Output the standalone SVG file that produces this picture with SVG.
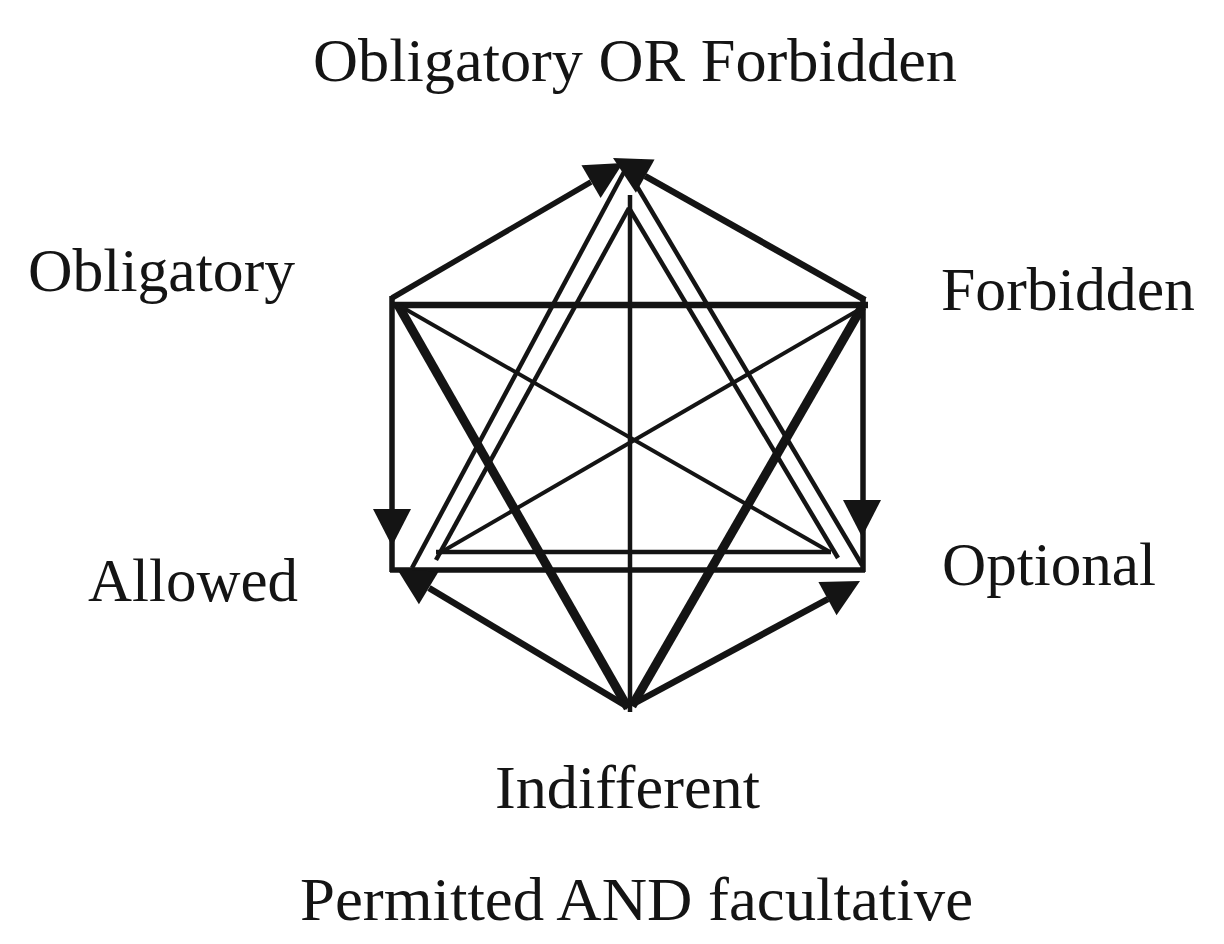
<svg xmlns="http://www.w3.org/2000/svg" width="1224" height="944" viewBox="0 0 1224 944">
<style>
  .lbl { font-family: "Liberation Serif", "Times New Roman", serif; font-size: 62px; fill: #141414; }
  .ln { stroke: #141414; fill: none; stroke-linecap: butt; }
  .w3 { stroke-width: 4; }
  .w4 { stroke-width: 4.5; }
  .w5 { stroke-width: 5.5; }
  .w6 { stroke-width: 6.5; }
  .w8 { stroke-width: 9; }
  .ah { fill: #141414; }
</style>
<defs>
  <polygon id="ah" points="0,0 -37,-19 -37,19"/>
</defs>
<rect width="1224" height="944" fill="#ffffff"/>
<g id="connectors">
  <line class="ln w5" x1="392" y1="298" x2="591" y2="182"/>
  <line class="ln w6" x1="865" y1="300" x2="645" y2="176"/>
  <line class="ln w6" x1="392" y1="305" x2="868" y2="305"/>
  <line class="ln w5" x1="392" y1="296" x2="392" y2="572"/>
  <line class="ln w5" x1="863" y1="298" x2="863" y2="572"/>
  <line class="ln w5" x1="390" y1="570" x2="865" y2="570"/>
  <line class="ln w8" x1="398" y1="305" x2="628" y2="708"/>
  <line class="ln w8" x1="862" y1="307" x2="632" y2="706"/>
  <line class="ln w3" x1="400" y1="306" x2="830" y2="552"/>
  <line class="ln w3" x1="862" y1="308" x2="438" y2="554"/>
  <line class="ln w4" x1="624" y1="172" x2="412" y2="568"/>
  <line class="ln w4" x1="632" y1="178" x2="862" y2="565"/>
  <line class="ln w4" x1="629" y1="208" x2="436" y2="560"/>
  <line class="ln w4" x1="629" y1="208" x2="838" y2="558"/>
  <line class="ln w4" x1="436" y1="552" x2="831" y2="552"/>
  <line class="ln w4" x1="630" y1="195" x2="630" y2="712"/>
  <line class="ln w6" x1="628" y1="707" x2="429" y2="588"/>
  <line class="ln w6" x1="635" y1="703" x2="828" y2="599"/>
  <use href="#ah" class="ah" transform="translate(623,163) rotate(-30.3)"/>
  <use href="#ah" class="ah" transform="translate(613,158) rotate(209.4)"/>
  <use href="#ah" class="ah" transform="translate(392,546) rotate(90)"/>
  <use href="#ah" class="ah" transform="translate(862,537) rotate(90)"/>
  <use href="#ah" class="ah" transform="translate(397,569) rotate(211)"/>
  <use href="#ah" class="ah" transform="translate(860,581) rotate(-28.5)"/>
</g>
<g id="node-obligatory-or-forbidden"><text class="lbl" x="313" y="81" textLength="644" lengthAdjust="spacingAndGlyphs">Obligatory OR Forbidden</text></g>
<g id="node-obligatory"><text class="lbl" x="28" y="291" textLength="267" lengthAdjust="spacingAndGlyphs">Obligatory</text></g>
<g id="node-forbidden"><text class="lbl" x="941" y="310" textLength="254" lengthAdjust="spacingAndGlyphs">Forbidden</text></g>
<g id="node-allowed"><text class="lbl" x="88" y="601" textLength="210" lengthAdjust="spacingAndGlyphs">Allowed</text></g>
<g id="node-optional"><text class="lbl" x="942" y="585" textLength="214" lengthAdjust="spacingAndGlyphs">Optional</text></g>
<g id="node-indifferent"><text class="lbl" x="495" y="808" textLength="265" lengthAdjust="spacingAndGlyphs">Indifferent</text></g>
<g id="node-permitted-and-facultative"><text class="lbl" x="300" y="920" textLength="673" lengthAdjust="spacingAndGlyphs">Permitted AND facultative</text></g>
</svg>
